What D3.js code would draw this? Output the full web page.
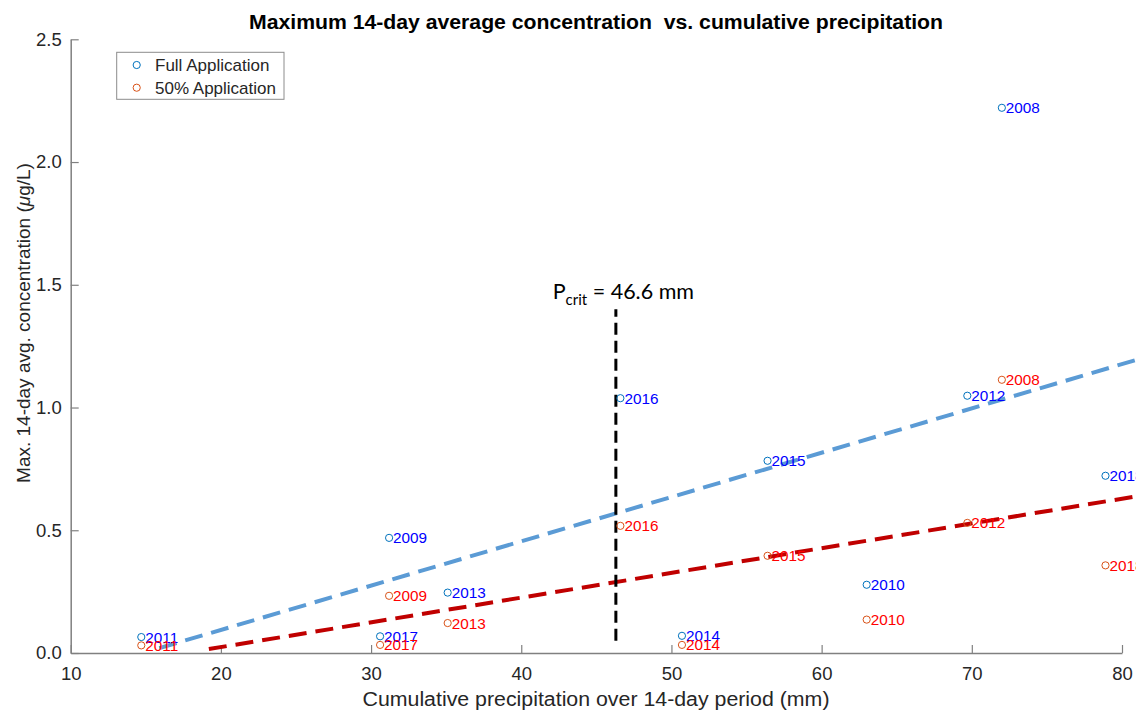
<!DOCTYPE html>
<html>
<head>
<meta charset="utf-8">
<script src="https://cdn.jsdelivr.net/npm/d3@7"></script>
<style>
  body { margin: 0; background: #fff; }
  svg { display: block; font-family: "Liberation Sans", Arial, sans-serif; }
</style>
</head>
<body>
<div id="chart"></div>
<script>
// data
var years = ['2008', '2009', '2010', '2011', '2012', '2013', '2014', '2015', '2016', '2017', '2018'];
var precip = [72.0, 31.2, 63.0, 14.7, 69.7, 35.1, 50.7, 56.4, 46.6, 30.6, 78.9];
var fullConc = [2.221, 0.469, 0.278, 0.065, 1.048, 0.246, 0.070, 0.783, 1.038, 0.068, 0.722];
var halfConc = [1.113, 0.233, 0.136, 0.031, 0.530, 0.122, 0.033, 0.396, 0.518, 0.033, 0.357];

// dashed fit lines (end points)
var fullFitX = [15.9, 80.95];
var fullFitY = [0.020, 1.194];
var halfFitX = [19.2, 80.95];
var halfFitY = [0.016, 0.638];

// critical precipitation marker
var pCritX = [46.3, 46.3];
var pCritY = [0.05, 1.40];
var pCritLabel = '46.6 mm';

var xTicks = [10, 20, 30, 40, 50, 60, 70, 80];
var yTicks = [0, 0.5, 1.0, 1.5, 2.0, 2.5];

var seriesNames = ['Full Application', '50% Application'];

var width = 1136, height = 713;
var margin = {top: 39.3, right: 14, bottom: 60, left: 70.7};

var svg = d3.select('#chart').append('svg')
    .attr('width', width)
    .attr('height', height);

var x = d3.scaleLinear().domain([10, 80]).range([margin.left, width - margin.right]);
var y = d3.scaleLinear().domain([0, 2.5]).range([height - margin.bottom, margin.top]);

var axisColor = '#808080';
var textColor = '#262626';

// title
svg.append('text')
    .attr('x', 596).attr('y', 29)
    .attr('text-anchor', 'middle')
    .attr('xml:space', 'preserve')
    .style('font-weight', 'bold')
    .style('font-size', '20px')
    .attr('textLength', 694)
    .attr('lengthAdjust', 'spacingAndGlyphs')
    .style('fill', '#000')
    .text('Maximum 14-day average concentration  vs. cumulative precipitation');

// axes
var xAxis = d3.axisBottom(x).tickValues(xTicks).tickSizeInner(-8).tickSizeOuter(0)
    .tickFormat(d3.format('d')).tickPadding(14);
var yAxis = d3.axisLeft(y).tickValues(yTicks).tickSizeInner(-8).tickSizeOuter(0)
    .tickFormat(d3.format('.1f')).tickPadding(9);

var gx = svg.append('g').attr('transform', 'translate(0,' + y(0) + ')').call(xAxis);
var gy = svg.append('g').attr('transform', 'translate(' + x(10) + ',0)').call(yAxis);

[gx, gy].forEach(function(g) {
    g.select('.domain').attr('stroke', axisColor).attr('stroke-width', 1.5);
    g.selectAll('.tick line').attr('stroke', axisColor).attr('stroke-width', 1.2);
    g.selectAll('.tick text')
        .style('font-size', '18.5px')
        .style('font-family', '"Liberation Sans", Arial, sans-serif')
        .attr('fill', textColor);
});
gx.selectAll('.tick text').attr('dy', '0.71em');

// axis labels
svg.append('text')
    .attr('x', 596).attr('y', 706)
    .attr('text-anchor', 'middle')
    .style('font-size', '20px')
    .attr('textLength', 467)
    .attr('lengthAdjust', 'spacingAndGlyphs')
    .attr('fill', textColor)
    .text('Cumulative precipitation over 14-day period (mm)');

var yl = svg.append('text')
    .attr('transform', 'translate(30,323) rotate(-90)')
    .attr('text-anchor', 'middle')
    .style('font-size', '19px')
    .attr('fill', textColor);
yl.append('tspan').text('Max. 14-day avg. concentration (');
yl.append('tspan').style('font-style', 'italic').text('\u03bc');
yl.append('tspan').text('g/L)');

var line = d3.line()
    .x(function(d) { return x(d[0]); })
    .y(function(d) { return y(d[1]); });

// fit lines
svg.append('path')
    .datum(d3.zip(fullFitX, fullFitY))
    .attr('d', line)
    .attr('fill', 'none')
    .attr('stroke', '#5b9bd5')
    .attr('stroke-width', 4)
    .attr('stroke-dasharray', '18,9');

svg.append('path')
    .datum(d3.zip(halfFitX, halfFitY))
    .attr('d', line)
    .attr('fill', 'none')
    .attr('stroke', '#c00000')
    .attr('stroke-width', 4)
    .attr('stroke-dasharray', '18,9');

// P crit line
svg.append('path')
    .datum(d3.zip(pCritX, pCritY))
    .attr('d', line)
    .attr('fill', 'none')
    .attr('stroke', '#000')
    .attr('stroke-width', 3)
    .attr('stroke-dasharray', '12,6');

var pl = svg.append('text')
    .attr('x', x(pCritX[0]) + 7.5).attr('y', y(pCritY[1]) - 10.5)
    .attr('text-anchor', 'middle')
    .style('font-family', 'Lato, "Open Sans", sans-serif')
    .style('font-size', '21.5px')
    .attr('fill', '#000');
pl.append('tspan').text('P');
pl.append('tspan').attr('dy', 6).style('font-size', '15px').text('crit');
pl.append('tspan').attr('dy', -6).text(' = ' + pCritLabel);

// points + labels
var series = [
    {values: fullConc, mark: '#0072bd', label: '#0000ff'},
    {values: halfConc, mark: '#d95319', label: '#ff0000'}
];

series.forEach(function(s) {
    var g = svg.append('g');
    var pts = years.map(function(yr, i) { return {year: yr, px: precip[i], c: s.values[i]}; });
    g.selectAll('circle').data(pts).enter().append('circle')
        .attr('cx', function(d) { return x(d.px); })
        .attr('cy', function(d) { return y(d.c); })
        .attr('r', 3.6)
        .attr('fill', 'none')
        .attr('stroke', s.mark)
        .attr('stroke-width', 1);
    g.selectAll('text').data(pts).enter().append('text')
        .attr('x', function(d) { return x(d.px) + 4; })
        .attr('y', function(d) { return y(d.c); })
        .attr('dy', '0.36em')
        .style('font-size', '15.3px')
        .attr('fill', s.label)
        .text(function(d) { return d.year; });
});

// legend
var lg = svg.append('g').attr('transform', 'translate(116.7,52.3)');
lg.append('rect')
    .attr('width', 167.3).attr('height', 47)
    .attr('fill', '#fff')
    .attr('stroke', '#8c8c8c')
    .attr('stroke-width', 1);
seriesNames.forEach(function(name, i) {
    lg.append('circle')
        .attr('cx', 20).attr('cy', 12.7 + i * 22.7)
        .attr('r', 3.6)
        .attr('fill', 'none')
        .attr('stroke', series[i].mark);
    lg.append('text')
        .attr('x', 38.3).attr('y', 12.7 + i * 22.7)
        .attr('dy', '0.36em')
        .style('font-size', '17px')
        .attr('fill', textColor)
        .text(name);
});
</script>
</body>
</html>
